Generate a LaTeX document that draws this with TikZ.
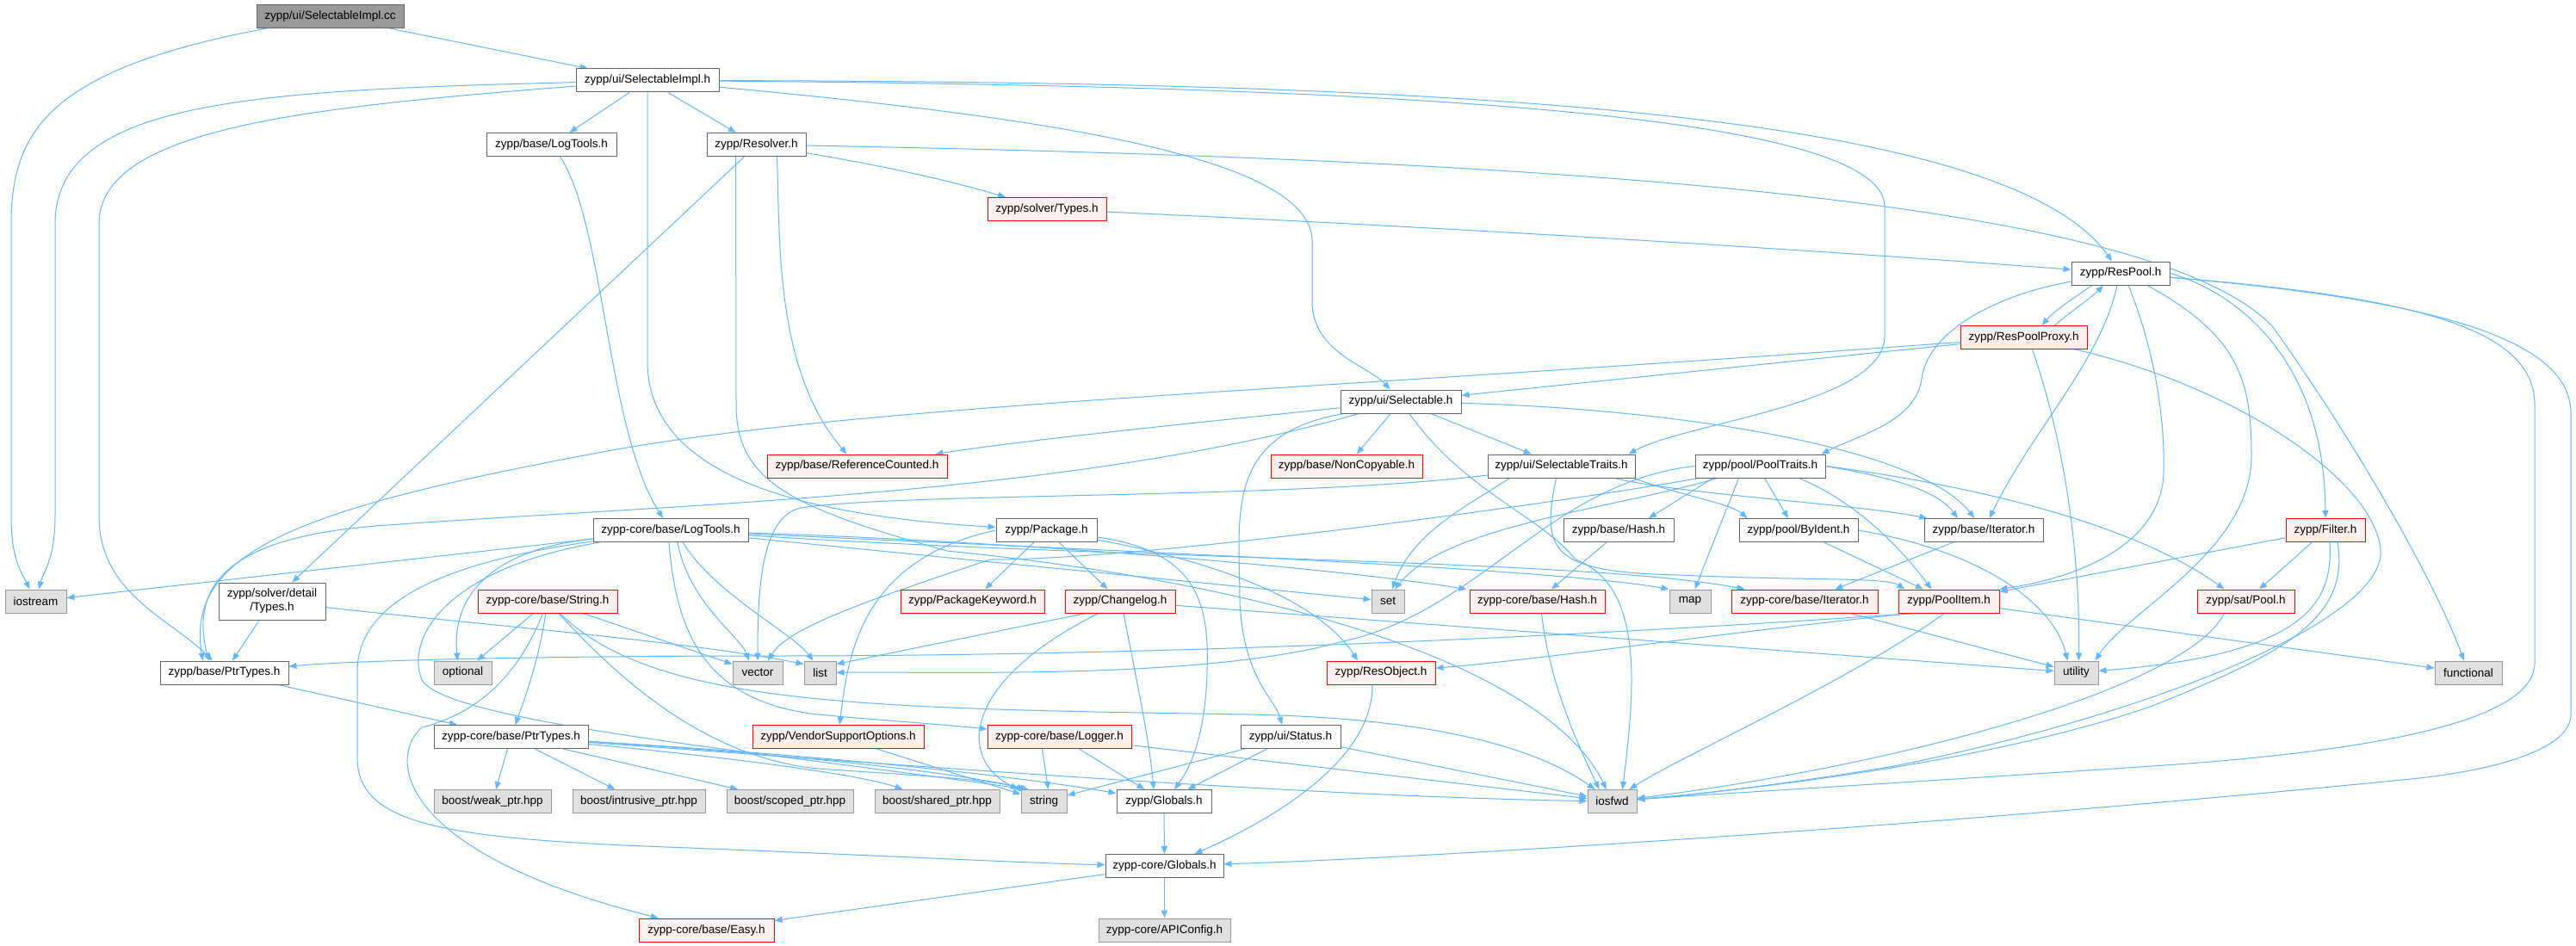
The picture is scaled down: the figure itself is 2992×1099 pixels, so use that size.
\documentclass[tikz,border=0pt]{standalone}
\usepackage{fontspec}
\setmainfont{Liberation Sans}
\usepackage{xcolor}
\usepackage{tikz}
\usetikzlibrary{arrows.meta}

\definecolor{edgeblue}{HTML}{63B8FF}
\definecolor{hdrline}{HTML}{666666}
\definecolor{truncline}{HTML}{FF0000}
\definecolor{truncfill}{HTML}{FFF0F0}
\definecolor{sysline}{HTML}{999999}
\definecolor{sysfill}{HTML}{E0E0E0}
\definecolor{srcfill}{HTML}{999999}

\pgfdeclarelayer{background}
\pgfsetlayers{background,main}

\begin{document}
\begin{tikzpicture}[x=1pt,y=-1pt,
  hdr/.style={draw=hdrline, fill=white, line width=1pt, inner sep=0pt, minimum height=27pt, align=center, font=\fontsize{13.5}{16}\selectfont},
  hdrtrunc/.style={hdr, draw=truncline, fill=truncfill},
  sysinc/.style={hdr, draw=sysline, fill=sysfill},
  srcfile/.style={hdr, fill=srcfill},
  inc/.style={draw=edgeblue, line width=1pt, -{Triangle[length=9pt,width=7pt]}}]

% rows 0 to 5
\node[srcfile, minimum width=171pt] (root) at (383.5,19) {zypp/ui/SelectableImpl.cc};
\node[hdr, minimum width=166pt] (selimplh) at (752,93.5) {zypp/ui/SelectableImpl.h};
\node[hdr, minimum width=151pt] (baselog) at (640.5,168) {zypp/base/LogTools.h};
\node[hdr, minimum width=115pt] (resolver) at (878.5,168) {zypp/Resolver.h};
\node[hdrtrunc, minimum width=138pt] (solvtypes) at (1216,243) {zypp/solver/Types.h};
\node[hdr, minimum width=114pt] (respool) at (2463,317.5) {zypp/ResPool.h};
\node[hdrtrunc, minimum width=147pt] (proxy) at (2350.5,392) {zypp/ResPoolProxy.h};

% rows 6 to 8
\node[hdr, minimum width=140pt] (selh) at (1627,466.5) {zypp/ui/Selectable.h};
\node[hdrtrunc, minimum width=209pt] (refcnt) at (995.5,541.5) {zypp/base/ReferenceCounted.h};
\node[hdrtrunc, minimum width=176pt] (noncopy) at (1564,541.5) {zypp/base/NonCopyable.h};
\node[hdr, minimum width=171pt] (seltraits) at (1813.5,541.5) {zypp/ui/SelectableTraits.h};
\node[hdr, minimum width=151pt] (pooltraits) at (2044.5,541.5) {zypp/pool/PoolTraits.h};
\node[hdr, minimum width=180pt] (corelog) at (779,616) {zypp-core/base/LogTools.h};
\node[hdr, minimum width=117pt] (package) at (1215.5,616) {zypp/Package.h};
\node[hdr, minimum width=128pt] (basehash) at (1880,616) {zypp/base/Hash.h};
\node[hdr, minimum width=138pt] (byident) at (2089,616) {zypp/pool/ByIdent.h};
\node[hdr, minimum width=138pt] (baseiter) at (2304,616) {zypp/base/Iterator.h};
\node[hdrtrunc, minimum width=92pt] (filter) at (2701,616) {zypp/Filter.h};

% row 9
\node[hdr, minimum width=124pt, minimum height=43pt] (dettypes) at (316,698.5) {zypp/solver/detail\\/Types.h};
\node[hdrtrunc, minimum width=162pt] (corestr) at (636,698.5) {zypp-core/base/String.h};
\node[hdrtrunc, minimum width=167pt] (pkgkw) at (1129.5,698.5) {zypp/PackageKeyword.h};
\node[hdrtrunc, minimum width=128pt] (changelog) at (1301,698.5) {zypp/Changelog.h};
\node[hdrtrunc, minimum width=157pt] (corehash) at (1785.5,698.5) {zypp-core/base/Hash.h};
\node[hdrtrunc, minimum width=170pt] (coreiter) at (2096,698.5) {zypp-core/base/Iterator.h};
\node[hdrtrunc, minimum width=117pt] (poolitem) at (2263.5,698.5) {zypp/PoolItem.h};
\node[hdrtrunc, minimum width=113pt] (satpool) at (2608.5,698.5) {zypp/sat/Pool.h};

% rows 10 to 14
\node[hdr, minimum width=149pt] (baseptr) at (260.5,781.5) {zypp/base/PtrTypes.h};
\node[hdrtrunc, minimum width=126pt] (resobj) at (1604,781.5) {zypp/ResObject.h};
\node[hdr, minimum width=179pt] (coreptr) at (593.5,856) {zypp-core/base/PtrTypes.h};
\node[hdrtrunc, minimum width=199pt] (vendor) at (973.5,856) {zypp/VendorSupportOptions.h};
\node[hdrtrunc, minimum width=167pt] (logger) at (1230.5,856) {zypp-core/base/Logger.h};
\node[hdr, minimum width=116pt] (status) at (1499,856) {zypp/ui/Status.h};
\node[hdr, minimum width=110pt] (globals) at (1352,931) {zypp/Globals.h};
\node[hdr, minimum width=137pt] (coreglob) at (1352.5,1006) {zypp-core/Globals.h};
\node[hdrtrunc, minimum width=157pt] (easy) at (820.5,1080.5) {zypp-core/base/Easy.h};

% system headers
\foreach \n/\t/\x/\y/\w in {iostream/{iostream}/41.5/698.5/71, set/{set}/1612/698.5/38, map/{map}/1963/698.5/48,
    optional/{optional}/537.5/781.5/67, vector/{vector}/880/781.5/58, list/{list}/952.5/781.5/37,
    utility/{utility}/2411.5/781.5/51, functional/{functional}/2867/781.5/78,
    weak/{boost/weak\_ptr.hpp}/572/931/136, intrusive/{boost/intrusive\_ptr.hpp}/742/931/154,
    scoped/{boost/scoped\_ptr.hpp}/917.5/931/147, shared/{boost/shared\_ptr.hpp}/1088.5/931/145,
    string/{string}/1212.5/931/53, iosfwd/{iosfwd}/1872.5/931/57, apiconf/{zypp-core/APIConfig.h}/1352.5/1080.5/153}{
  \node[sysinc, minimum width=\w pt] (\n) at (\x,\y) {\t};
}

\begin{pgfonlayer}{background}
\fill[white] (0,0) rectangle (2992,1099);

% SelectableImpl.cc and SelectableImpl.h
\draw[inc] (root) .. controls (60,80) and (13,150) .. (13,260) -- (13,600) .. controls (13,650) and (25,665) .. (iostream);
\draw[inc] (root) -- (selimplh);
\draw[inc] (selimplh) .. controls (300,105) and (64,115) .. (64,260) -- (64,600) .. controls (64,650) and (50,665) .. (iostream);
\draw[inc] (selimplh) .. controls (350,125) and (115,150) .. (115,260) -- (115,600) .. controls (115,690) and (200,720) .. (baseptr);
\draw[inc] (selimplh) -- (baselog);
\draw[inc] (selimplh) -- (resolver);
\draw[inc] (selimplh) -- (752,420) .. controls (752,560) and (950,600) .. (package);
\draw[inc] (selimplh) .. controls (1200,135) and (1524,180) .. (1524,280) -- (1524,350) .. controls (1524,410) and (1590,425) .. (selh);
\draw[inc] (selimplh) .. controls (1700,95) and (2330,130) .. (respool);
\draw[inc] (selimplh) .. controls (1600,100) and (2189,130) .. (2189,240) -- (2189,390) .. controls (2189,470) and (1960,490) .. ([xshift=-8pt]seltraits.north east);

% Resolver.h
\draw[inc] (resolver) .. controls (1040,195) and (1110,212) .. (solvtypes);
\draw[inc] (resolver) .. controls (1800,185) and (2500,230) .. (2640,380) .. controls (2740,520) and (2830,680) .. (functional);
\draw[inc] ([xshift=24pt]resolver.south) .. controls (906,280) and (900,430) .. (refcnt);
\draw[inc] ([xshift=-14pt]resolver.south) -- (dettypes);
\draw[inc] ([xshift=-24pt]resolver.south) -- (855,470) .. controls (855,560) and (920,590) .. (1100,640) .. controls (1500,680) and (1800,780) .. (iosfwd);
\draw[inc] ([xshift=10pt]baselog.south) .. controls (702,260) and (705,500) .. (corelog);
\draw[inc] (solvtypes) .. controls (1700,265) and (2100,290) .. (respool);

% ResPool.h and ResPoolProxy.h
\draw[inc] ([xshift=-33pt]respool.south) .. controls (2410,345) and (2385,362) .. ([xshift=21pt]proxy.north);
\draw[inc] ([xshift=36pt]proxy.north) .. controls (2405,362) and (2430,345) .. ([xshift=-20pt]respool.south);
\draw[inc] (respool) .. controls (2330,340) and (2240,380) .. (2232,440) .. controls (2225,490) and (2160,505) .. ([xshift=-5pt]pooltraits.north east);
\draw[inc] ([xshift=-4pt]respool.south) .. controls (2440,420) and (2360,500) .. (baseiter);
\draw[inc] ([xshift=9pt]respool.south) .. controls (2500,400) and (2515,480) .. (2513,550) .. controls (2510,630) and (2420,670) .. (poolitem.north east);
\draw[inc] ([xshift=31pt]respool.south) .. controls (2600,390) and (2615,440) .. (2615,530) .. controls (2615,640) and (2470,710) .. ([xshift=22pt]utility.north);
\draw[inc] (respool.east) .. controls (2600,340) and (2700,420) .. (filter);
\draw[inc] (respool) .. controls (2800,345) and (2944,380) .. (2944,470) -- (2944,770) .. controls (2944,830) and (2800,870) .. (2500,890) .. controls (2200,910) and (1950,925) .. (iosfwd);
\draw[inc] (respool) .. controls (2850,350) and (2986,400) .. (2986,480) -- (2986,830) .. controls (2986,870) and (2900,895) .. (2800,905) .. controls (2300,955) and (1700,995) .. (coreglob);
\draw[inc] (proxy) -- (selh);
\draw[inc] (proxy) .. controls (1500,455) and (1000,470) .. (700,525) .. controls (350,590) and (215,640) .. ([xshift=-25pt]baseptr.north);
\draw[inc] ([xshift=10pt]proxy.south) .. controls (2400,520) and (2416,650) .. ([xshift=3pt]utility.north);
\draw[inc] (proxy) .. controls (2600,450) and (2760,560) .. (2765,640) .. controls (2770,720) and (2500,830) .. (2200,890) .. controls (2050,915) and (1950,925) .. (iosfwd);

% Selectable.h
\draw[inc] (selh) .. controls (1400,490) and (1200,510) .. (refcnt);
\draw[inc] (selh) .. controls (1250,575) and (800,585) .. (450,610) .. controls (300,620) and (215,660) .. ([xshift=-18pt]baseptr.north);
\draw[inc] (selh) -- (noncopy);
\draw[inc] (selh) -- (seltraits);
\draw[inc] ([xshift=4pt]selh.south west) .. controls (1420,505) and (1440,600) .. (1440,700) .. controls (1445,790) and (1480,810) .. ([xshift=-10pt]status.north);
\draw[inc] ([xshift=10pt]selh.south) .. controls (1700,570) and (1790,600) .. (1830,650) .. controls (1910,680) and (1899,800) .. ([xshift=12pt]iosfwd.north);
\draw[inc] (selh) .. controls (1950,475) and (2230,520) .. (baseiter);

% SelectableTraits.h and PoolTraits.h
\draw[inc] ([xshift=-60pt]seltraits.south) .. controls (1700,590) and (1640,620) .. (set);
\draw[inc] (seltraits) .. controls (1500,580) and (1050,572) .. (930,590) .. controls (885,600) and (880,680) .. (vector);
\draw[inc] (seltraits) .. controls (1960,575) and (2150,585) .. ([xshift=4pt]baseiter.north west);
\draw[inc] ([xshift=-2pt]seltraits.south east) .. controls (1950,575) and (2010,585) .. ([xshift=10pt]byident.north west);
\draw[inc] ([xshift=-6pt]seltraits.south) .. controls (1790,640) and (1800,665) .. (1950,668) .. controls (2100,675) and (2190,670) .. ([xshift=8pt]poolitem.north west);
\draw[inc] ([xshift=-50pt]pooltraits.south) .. controls (1880,590) and (1680,610) .. ([xshift=8pt]set.north);
\draw[inc] ([xshift=-25pt]pooltraits.south) -- (map);
\draw[inc] (pooltraits.west) .. controls (1800,560) and (1720,710) .. (1560,745) .. controls (1400,790) and (1100,780) .. (list);
\draw[inc] ([xshift=4pt]pooltraits.south west) .. controls (1850,578) and (1350,650) .. (1150,650) .. controls (1000,700) and (915,730) .. ([xshift=12pt]vector.north);
\draw[inc] ([xshift=-55pt]pooltraits.south) -- ([xshift=35pt]basehash.north);
\draw[inc] ([xshift=5pt]pooltraits.south) -- ([xshift=-12pt]byident.north);
\draw[inc] ([xshift=45pt]pooltraits.south) .. controls (2160,585) and (2210,640) .. ([xshift=-20pt]poolitem.north);
\draw[inc] (pooltraits.east) .. controls (2200,555) and (2250,570) .. ([xshift=-30pt]baseiter.north);
\draw[inc] (pooltraits.east) .. controls (2300,565) and (2480,610) .. ([xshift=-25pt]satpool.north);

% row 8 and row 9 helpers
\draw[inc] ([xshift=-14pt]basehash.south) -- (corehash);
\draw[inc] (byident) -- (poolitem);
\draw[inc] (byident.east) .. controls (2300,640) and (2385,700) .. ([xshift=-10pt]utility.north);
\draw[inc] (baseiter) -- (coreiter);
\draw[inc] (filter) -- (poolitem);
\draw[inc] (filter) -- (satpool);
\draw[inc] ([xshift=5pt]filter.south) .. controls (2710,700) and (2680,760) .. (utility);
\draw[inc] ([xshift=14pt]filter.south) .. controls (2730,720) and (2650,760) .. (2500,820) .. controls (2300,890) and (2000,920) .. (iosfwd);
\draw[inc] ([xshift=-25pt]satpool.south) .. controls (2540,800) and (2200,890) .. (iosfwd);
\draw[inc] ([xshift=5pt]corehash.south) .. controls (1800,800) and (1840,880) .. ([xshift=-15pt]iosfwd.north);
\draw[inc] (coreiter) -- (utility);

% PoolItem.h
\draw[inc] ([xshift=-40pt]poolitem.south) .. controls (1900,735) and (1400,762) .. (900,762) .. controls (600,762) and (400,768) .. (baseptr);
\draw[inc] ([xshift=15pt]poolitem.south west) .. controls (2000,735) and (1800,765) .. (resobj);
\draw[inc] ([xshift=-5pt]poolitem.south) .. controls (2150,790) and (1950,880) .. ([xshift=20pt]iosfwd.north);
\draw[inc] (poolitem) -- (functional);

% Package.h and Changelog.h
\draw[inc] (package) -- (pkgkw);
\draw[inc] (package) -- (changelog);
\draw[inc] (package.west) .. controls (1000,650) and (985,760) .. (vendor);
\draw[inc] (package) .. controls (1450,660) and (1540,710) .. ([xshift=-27pt]resobj.north);
\draw[inc] (package) .. controls (1390,640) and (1405,700) .. (1402,780) .. controls (1400,860) and (1380,895) .. ([xshift=12pt]globals.north);
\draw[inc] (changelog) -- (utility);
\draw[inc] ([xshift=-40pt]changelog.south) -- ([yshift=-4pt]list.north east);
\draw[inc] ([xshift=-25pt]changelog.south) .. controls (1120,790) and (1110,880) .. ([xshift=-30pt]string.north);
\draw[inc] ([xshift=4pt]changelog.south) .. controls (1320,790) and (1335,860) .. ([xshift=-12pt]globals.north);

% lower rows
\draw[inc] (vendor) -- (string);
\draw[inc] ([xshift=-20pt]logger.south) -- ([xshift=5pt]string.north);
\draw[inc] (logger) -- (globals);
\draw[inc] (logger) -- (iosfwd);
\draw[inc] (status) -- (string);
\draw[inc] (status) -- (globals);
\draw[inc] (status) -- (iosfwd);
\draw[inc] (globals) -- (coreglob);
\draw[inc] (coreglob) -- (apiconf);
\draw[inc] (coreglob) -- (easy);
\draw[inc] ([xshift=-10pt]resobj.south) .. controls (1595,890) and (1460,960) .. ([xshift=35pt]coreglob.north);
\draw[inc] (coreptr) -- (weak);
\draw[inc] (coreptr) -- (intrusive);
\draw[inc] (coreptr) -- (scoped);
\draw[inc] (coreptr) .. controls (850,880) and (1000,900) .. (shared);
\draw[inc] (coreptr) .. controls (900,875) and (1100,895) .. ([xshift=-18pt]string.north);
\draw[inc] (coreptr) .. controls (1000,880) and (1200,905) .. (globals);
\draw[inc] (coreptr) .. controls (1000,885) and (1500,925) .. (iosfwd);
\draw[inc] (baseptr) -- (coreptr);
\draw[inc] (dettypes) -- (baseptr);
\draw[inc] (dettypes) .. controls (550,725) and (800,745) .. ([yshift=-4pt]list.north west);

% zypp-core/base/LogTools.h
\draw[inc] (corelog) -- (iostream);
\draw[inc] (corelog) .. controls (560,640) and (525,700) .. ([xshift=-6pt]optional.north);
\draw[inc] (corelog) .. controls (540,650) and (415,690) .. (415,780) -- (415,880) .. controls (415,960) and (520,975) .. (800,985) .. controls (1050,995) and (1200,1003) .. (coreglob);
\draw[inc] (corelog) .. controls (520,660) and (470,740) .. (490,790) .. controls (520,840) and (900,875) .. ([xshift=-20pt]string.north);
\draw[inc] ([xshift=-2pt]corelog.south) .. controls (785,730) and (815,815) .. (950,830) .. controls (1000,835) and (1100,842) .. (logger);
\draw[inc] ([xshift=8pt]corelog.south) .. controls (800,700) and (860,740) .. ([xshift=-10pt]vector.north);
\draw[inc] ([xshift=14pt]corelog.south) .. controls (830,690) and (920,735) .. ([xshift=-8pt]list.north);
\draw[inc] (corelog) -- (set);
\draw[inc] (corelog) .. controls (1300,640) and (1800,660) .. (map.north west);
\draw[inc] (corelog) .. controls (1200,630) and (1550,660) .. ([xshift=-3pt]corehash.north west);
\draw[inc] (corelog) .. controls (1300,650) and (1850,650) .. ([xshift=16pt]coreiter.north west);

% zypp-core/base/String.h
\draw[inc] (corestr) -- (optional);
\draw[inc] (corestr) .. controls (625,770) and (610,810) .. (coreptr);
\draw[inc] (corestr) .. controls (600,790) and (550,830) .. (490,845) .. controls (450,880) and (460,990) .. (easy);
\draw[inc] (corestr) .. controls (720,790) and (820,880) .. (950,893) .. controls (1050,900) and (1150,905) .. ([xshift=-22pt]string.north);
\draw[inc] (corestr) -- (vector);
\draw[inc] (corestr) .. controls (760,820) and (1000,823) .. (1450,830) .. controls (1700,835) and (1800,880) .. ([xshift=-20pt]iosfwd.north);
\end{pgfonlayer}

\end{tikzpicture}
\end{document}
